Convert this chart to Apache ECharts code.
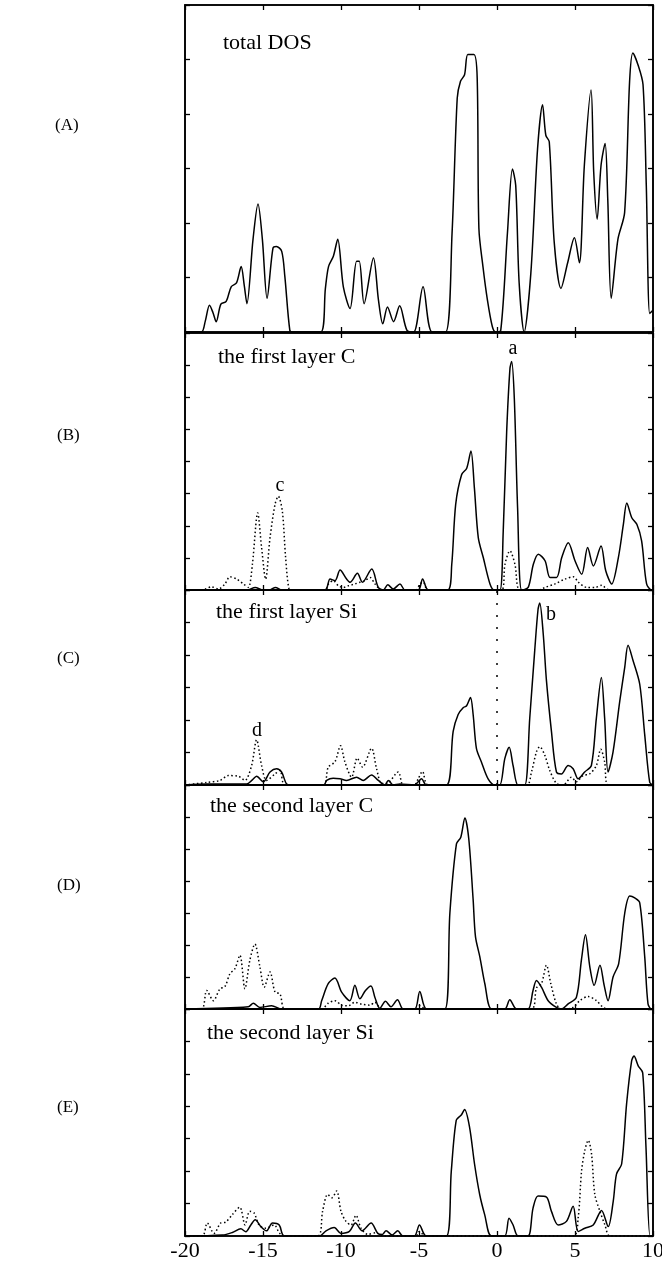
<!DOCTYPE html>
<html><head><meta charset="utf-8">
<script src="https://cdn.jsdelivr.net/npm/echarts@6/dist/echarts.min.js"></script>
<style>html,body{margin:0;padding:0;background:#fff}#c{width:662px;height:1263px}</style>
</head><body><div id="c"></div>
<script>
// ---------- data ----------
const xRange = [-20, 10];
const xTickStep = 5;
const panelLabels = ['(A)', '(B)', '(C)', '(D)', '(E)'];
const panelTitles = ['total DOS', 'the first layer C', 'the first layer Si', 'the second layer C', 'the second layer Si'];
const panelYMax = [6, 8, 6, 7, 7];
const peakLetters = ['a', 'b', 'c', 'd'];

const totalDOS = [[-20,0],[-18.95,0],[-18.7,0.2],[-18.43,0.49],[-18.2,0.35],[-18.0,0.19],[-17.7,0.51],[-17.36,0.56],[-17.04,0.83],[-16.7,0.9],[-16.4,1.2],[-16.2,0.85],[-16.03,0.52],[-15.64,1.7],[-15.32,2.35],[-15.04,1.7],[-14.74,0.62],[-14.36,1.54],[-14.14,1.57],[-13.8,1.48],[-13.6,1.02],[-13.28,0.03],[-13.1,0],[-11.3,0],[-11.0,0.8],[-10.8,1.2],[-10.49,1.39],[-10.21,1.7],[-9.85,0.83],[-9.42,0.43],[-9.0,1.3],[-8.83,1.3],[-8.52,0.52],[-7.92,1.36],[-7.6,0.59],[-7.32,0.15],[-7.02,0.46],[-6.63,0.19],[-6.24,0.48],[-5.77,0.03],[-5.34,0],[-4.74,0.83],[-4.16,0],[-3.3,0],[-2.88,1.82],[-2.55,4.29],[-2.34,4.6],[-2.08,4.72],[-1.87,5.09],[-1.48,5.09],[-1.27,4.66],[-1.16,1.9],[-0.9,1.2],[-0.62,0.6],[-0.3,0.1],[-0.09,0],[0.24,0.03],[0.67,1.82],[0.99,2.99],[1.2,2.69],[1.42,0.9],[1.74,0],[2.17,1.08],[2.6,3.36],[2.92,4.17],[3.13,3.61],[3.35,3.49],[3.67,1.64],[4.1,0.8],[4.53,1.27],[4.96,1.73],[5.28,1.27],[5.6,3.06],[6.03,4.44],[6.2,2.93],[6.42,2.07],[6.67,3.06],[6.93,3.46],[7.1,2.44],[7.32,0.62],[7.75,1.7],[8.18,2.19],[8.5,4.6],[8.71,5.12],[9.03,4.91],[9.36,4.54],[9.57,2.69],[9.79,0.34],[10,0.4]];

const layer1C_solid = [[-20,0],[-16.0,0],[-15.5,0.08],[-15.0,0],[-14.6,0],[-14.2,0.08],[-13.8,0],[-11.03,0],[-10.7,0.34],[-10.38,0.29],[-10.06,0.62],[-9.64,0.34],[-9.42,0.24],[-8.95,0.52],[-8.63,0.24],[-8.03,0.65],[-7.61,0.08],[-7.29,0],[-7.0,0.16],[-6.65,0.03],[-6.22,0.19],[-5.9,0],[-5.04,0],[-4.77,0.34],[-4.4,0],[-3.16,0],[-2.9,0.8],[-2.65,2.66],[-2.27,3.59],[-1.94,3.79],[-1.67,4.33],[-1.45,3.18],[-1.2,1.63],[-0.88,1.01],[-0.45,0.19],[-0.17,0],[0.19,0],[0.4,1.84],[0.62,4.93],[0.83,6.89],[0.94,7.11],[1.11,5.96],[1.32,2.56],[1.58,0],[2.0,0.08],[2.33,0.8],[2.65,1.11],[3.08,0.91],[3.4,0.39],[3.82,0.39],[4.15,1.01],[4.57,1.47],[5.0,0.91],[5.43,0.49],[5.81,1.32],[6.18,0.75],[6.67,1.37],[6.97,0.6],[7.35,0.19],[7.78,1.01],[8.1,2.04],[8.32,2.71],[8.64,2.25],[8.97,2.04],[9.27,1.53],[9.59,0.19],[9.91,0],[10,0]];
const layer1C_dotted = [[-20,0],[-19.0,0],[-18.7,0.03],[-18.3,0.1],[-17.86,0.03],[-17.44,0.19],[-17.12,0.41],[-16.69,0.34],[-16.26,0.19],[-15.94,0.08],[-15.68,0.8],[-15.34,2.4],[-15.09,1.32],[-14.83,0.34],[-14.55,1.63],[-14.23,2.66],[-14.02,2.92],[-13.76,2.45],[-13.55,1.01],[-13.33,0.03],[-13.1,0],[-11.0,0],[-10.8,0.19],[-10.49,0.29],[-10.17,0.13],[-9.85,0.08],[-9.53,0.13],[-9.1,0.19],[-8.78,0.24],[-8.46,0.29],[-8.14,0.39],[-7.82,0.19],[-7.4,0],[-5.2,0],[-4.94,0.19],[-4.72,0.24],[-4.44,0],[0.3,0],[0.51,0.8],[0.83,1.22],[1.15,0.8],[1.47,0],[2.65,0],[3.08,0.08],[3.72,0.19],[4.36,0.34],[4.9,0.41],[5.22,0.24],[5.75,0.08],[6.29,0.08],[6.72,0.15],[7.03,0.03],[7.35,0],[10,0]];

const layer1Si_solid = [[-20,0],[-18.6,0.03],[-16.05,0.03],[-15.7,0.15],[-15.41,0.27],[-14.98,0.1],[-14.55,0.4],[-14.13,0.5],[-13.81,0.4],[-13.49,0.03],[-13.2,0],[-11.1,0],[-10.92,0.14],[-10.5,0.21],[-10.07,0.19],[-9.64,0.14],[-9.0,0.24],[-8.58,0.14],[-8.04,0.31],[-7.61,0.14],[-7.19,0],[-6.97,0.14],[-6.65,0],[-6.23,0.03],[-5.3,0],[-5.05,0.1],[-4.84,0.19],[-4.52,0],[-3.24,0],[-2.81,1.65],[-2.49,2.17],[-2.17,2.38],[-1.96,2.43],[-1.7,2.69],[-1.53,2.17],[-1.32,1.13],[-1.0,0.71],[-0.57,0.19],[-0.14,0],[0.18,0],[0.5,0.81],[0.78,1.16],[1.03,0.6],[1.35,0],[1.78,0],[2.1,2.06],[2.42,4.15],[2.63,5.4],[2.74,5.6],[2.96,4.67],[3.17,3.21],[3.49,1.65],[3.81,0.4],[4.13,0.34],[4.56,0.6],[4.88,0.5],[5.2,0.19],[5.62,0.4],[6.05,0.6],[6.37,2.06],[6.69,3.31],[6.9,2.06],[7.12,0.4],[7.44,1.02],[7.87,2.58],[8.19,3.63],[8.4,4.3],[8.72,3.83],[9.15,3.1],[9.47,1.54],[9.79,0.08],[10,0]];
const layer1Si_dotted = [[-20,0],[-18.6,0.08],[-17.76,0.14],[-17.22,0.29],[-16.58,0.27],[-16.16,0.14],[-15.73,0.6],[-15.41,1.39],[-15.09,0.6],[-14.77,0.14],[-14.23,0.34],[-13.91,0.45],[-13.59,0],[-11.14,0],[-10.82,0.55],[-10.39,0.71],[-10.03,1.21],[-9.75,0.71],[-9.32,0.24],[-8.96,0.83],[-8.62,0.55],[-8.04,1.13],[-7.72,0.5],[-7.4,0.05],[-7.08,0.05],[-6.33,0.4],[-6.01,0],[-5.3,0],[-5.05,0.19],[-4.78,0.42],[-4.41,0],[1.89,0],[2.21,0.4],[2.53,1.02],[2.74,1.18],[3.06,0.92],[3.38,0.45],[3.81,0.05],[4.24,0],[4.77,0.24],[5.09,0.1],[5.52,0.29],[5.94,0.34],[6.37,0.6],[6.65,1.1],[6.9,0.71],[7.12,0],[10,0]];

const layer2C_solid = [[-20,0],[-15.94,0.07],[-15.62,0.18],[-15.2,0.05],[-14.45,0.1],[-13.8,0],[-11.45,0],[-11.24,0.26],[-10.82,0.79],[-10.39,0.97],[-9.96,0.53],[-9.43,0.26],[-9.11,0.74],[-8.79,0.32],[-8.43,0.58],[-8.08,0.72],[-7.83,0.37],[-7.51,0.02],[-7.15,0.24],[-6.8,0.07],[-6.38,0.29],[-6.01,0],[-5.27,0],[-4.95,0.55],[-4.52,0],[-3.34,0],[-3.02,3.0],[-2.6,5.16],[-2.32,5.37],[-2.06,5.97],[-1.81,5.32],[-1.53,3.42],[-1.38,2.26],[-1.1,1.63],[-0.78,0.79],[-0.35,0],[0.5,0],[0.82,0.29],[1.25,0],[1.99,0],[2.31,0.58],[2.53,0.89],[2.85,0.68],[3.28,0.26],[3.81,0.05],[4.13,0],[4.56,0.16],[5.09,0.37],[5.41,1.53],[5.67,2.32],[5.95,1.32],[6.23,0.74],[6.6,1.37],[6.87,0.74],[7.12,0.26],[7.44,1.0],[7.8,1.42],[8.19,3.0],[8.51,3.53],[8.83,3.47],[9.15,3.32],[9.47,1.63],[9.68,0.16],[9.9,0],[10,0]];
const layer2C_dotted = [[-20,0],[-18.93,0],[-18.61,0.58],[-18.18,0.26],[-17.76,0.63],[-17.44,0.7],[-17.12,1.1],[-16.8,1.26],[-16.48,1.68],[-16.16,0.63],[-15.84,1.53],[-15.52,2.03],[-15.2,1.32],[-14.92,0.68],[-14.55,1.16],[-14.23,0.53],[-13.91,0.47],[-13.59,0],[-11.24,0],[-10.82,0.18],[-10.39,0.26],[-9.96,0.12],[-9.54,0.1],[-9.11,0.21],[-8.68,0.15],[-8.15,0.12],[-7.83,0.21],[-7.4,0],[-5.2,0],[-4.95,0.1],[-4.6,0],[2.2,0],[2.53,0.66],[2.85,0.79],[3.17,1.37],[3.45,0.79],[3.81,0.16],[4.13,0],[4.88,0.05],[5.3,0.26],[5.84,0.39],[6.37,0.26],[6.8,0.05],[7.1,0],[10,0]];

const layer2Si_solid = [[-20,0],[-17.6,0.03],[-16.96,0.11],[-16.42,0.22],[-16.1,0.13],[-15.78,0.34],[-15.5,0.5],[-15.14,0.29],[-14.78,0.16],[-14.39,0.4],[-13.96,0.34],[-13.64,0],[-11.39,0],[-10.96,0.16],[-10.43,0.26],[-10.0,0.08],[-9.46,0.14],[-9.08,0.4],[-8.65,0.16],[-8.07,0.4],[-7.64,0.08],[-7.35,0.05],[-7.11,0.16],[-6.72,0.03],[-6.36,0.16],[-6.04,0],[-5.3,0],[-4.97,0.34],[-4.54,0],[-3.25,0],[-2.93,2.0],[-2.61,3.57],[-2.29,3.73],[-2.08,3.9],[-1.76,3.36],[-1.44,2.22],[-1.11,1.28],[-0.79,0.66],[-0.36,0],[0.49,0],[0.77,0.55],[1.03,0.34],[1.35,0],[1.99,0],[2.31,0.86],[2.63,1.23],[3.17,1.2],[3.49,0.76],[3.92,0.34],[4.45,0.45],[4.88,0.92],[5.2,0.14],[5.63,0.24],[6.17,0.34],[6.7,0.79],[7.13,0.29],[7.45,1.07],[7.66,1.91],[7.99,2.22],[8.31,4.09],[8.63,5.4],[8.78,5.55],[9.06,5.24],[9.34,5.03],[9.55,2.74],[9.81,0],[10,0]];
const layer2Si_dotted = [[-20,0],[-18.89,0],[-18.57,0.4],[-18.14,0.08],[-17.71,0.4],[-17.39,0.43],[-16.96,0.66],[-16.49,0.89],[-16.15,0.34],[-15.85,0.76],[-15.57,0.71],[-15.25,0.34],[-14.82,0.24],[-14.28,0.34],[-13.96,0.1],[-13.64,0],[-11.5,0],[-11.18,0.76],[-10.86,1.28],[-10.58,1.18],[-10.28,1.39],[-10.0,0.76],[-9.68,0.45],[-9.36,0.34],[-9.04,0.64],[-8.72,0.24],[-8.29,0.05],[-7.75,0.1],[-7.3,0],[-5.2,0],[-4.97,0.14],[-4.6,0],[4.88,0],[5.2,0.55],[5.42,2.0],[5.63,2.64],[5.85,2.95],[6.06,2.53],[6.27,1.28],[6.6,0.76],[6.92,0.34],[7.24,0],[10,0]];

const fermiLevel = 0;

// ---------- layout ----------
const panelSolid = [totalDOS, layer1C_solid, layer1Si_solid, layer2C_solid, layer2Si_solid];
const panelDotted = [null, layer1C_dotted, layer1Si_dotted, layer2C_dotted, layer2Si_dotted];
const gridBoxes = [{top:5,h:327},{top:333,h:257},{top:590,h:195},{top:785,h:224},{top:1009,h:227}];
const SERIF = '"Liberation Serif", "DejaVu Serif", serif';
const PL = 185, PR = 9;

const grid = [], xAxis = [], yAxis = [], series = [];
gridBoxes.forEach((g, i) => {
  grid.push({left: PL, right: PR, top: g.top, height: g.h, show: true,
    containLabel: false, outerBoundsMode: 'none',
    borderColor: '#000', borderWidth: 1.6, backgroundColor: 'transparent'});
  const common = {type: 'value', gridIndex: i, min: xRange[0], max: xRange[1], interval: xTickStep,
    splitLine: {show: false},
    axisLine: {show: true, onZero: false, lineStyle: {color: '#000', width: 1.6}},
    axisTick: {show: true, inside: true, length: 5, lineStyle: {color: '#000', width: 1.3}}};
  xAxis.push(Object.assign({}, common, {position: 'bottom',
    axisLabel: {show: i === 4, color: '#000', fontFamily: SERIF, fontSize: 22, margin: 4}}));
  xAxis.push(Object.assign({}, common, {position: 'top', axisLabel: {show: false}}));
  const yc = {type: 'value', gridIndex: i, min: 0, max: panelYMax[i], interval: 1,
    splitLine: {show: false}, axisLabel: {show: false},
    axisLine: {show: true, onZero: false, lineStyle: {color: '#000', width: 1.6}},
    axisTick: {show: true, inside: true, length: 5, lineStyle: {color: '#000', width: 1.3}}};
  yAxis.push(Object.assign({}, yc, {position: 'left'}));
  yAxis.push(Object.assign({}, yc, {position: 'right'}));

  series.push({type: 'line', xAxisIndex: 2*i, yAxisIndex: 2*i, data: panelSolid[i],
    showSymbol: false, smooth: 0.3, clip: true, silent: true,
    lineStyle: {color: '#000', width: 1.5}});
  if (panelDotted[i]) {
    const s = {type: 'line', xAxisIndex: 2*i, yAxisIndex: 2*i, data: panelDotted[i],
      showSymbol: false, smooth: 0.3, clip: true, silent: true,
      lineStyle: {color: '#000', width: 1.5, type: [1.5, 2.5]}};
    if (i === 2) {
      s.markLine = {silent: true, symbol: 'none', label: {show: false},
        lineStyle: {color: '#000', width: 1.5, type: [2, 10]}, data: [{xAxis: fermiLevel}]};
    }
    series.push(s);
  }
});

const texts = [];
const titlePos = [[223,43],[218,357],[216,612],[210,806],[207,1033]];
panelTitles.forEach((t, i) => texts.push({type: 'text', x: titlePos[i][0], y: titlePos[i][1],
  style: {text: t, font: '22px ' + SERIF, fill: '#000', textVerticalAlign: 'middle'}}));
const labelPos = [[55,126],[57,436],[57,659],[57,886],[57,1108]];
panelLabels.forEach((t, i) => texts.push({type: 'text', x: labelPos[i][0], y: labelPos[i][1],
  style: {text: t, font: '17px ' + SERIF, fill: '#000', textVerticalAlign: 'middle'}}));
const letterPos = [[513,349],[551,615],[280,486],[257,731]];
peakLetters.forEach((t, i) => texts.push({type: 'text', x: letterPos[i][0], y: letterPos[i][1],
  style: {text: t, font: '20px ' + SERIF, fill: '#000', textAlign: 'center', textVerticalAlign: 'middle'}}));

const chart = echarts.init(document.getElementById('c'), null, {renderer: 'canvas'});
chart.setOption({animation: false, backgroundColor: '#fff', grid, xAxis, yAxis, series, graphic: texts});
</script></body></html>
